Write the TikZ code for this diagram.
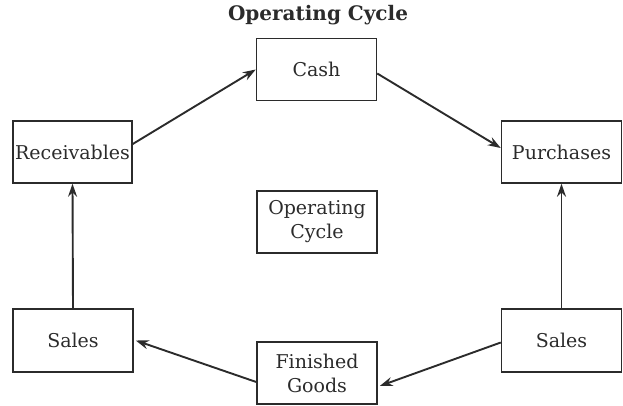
\documentclass[tikz,border=0pt]{standalone}
\usepackage{fontspec}
\setmainfont{DejaVu Serif}
\usetikzlibrary{arrows.meta}
\definecolor{ink}{HTML}{2B2B2B}
\begin{document}
\begin{tikzpicture}[x=1pt,y=-1pt,
  every node/.style={font=\fontsize{19}{24}\selectfont, text=ink},
  box/.style={draw=ink, line width=1.5pt, inner sep=1pt, align=center,
    minimum width=120pt, minimum height=62pt},
  flow/.style={draw=ink, line width=1.9pt, -{Stealth[length=13pt,width=9pt]}}]
\useasboundingbox (0,0) rectangle (623,406);
\node[font=\fontsize{20}{24}\selectfont\bfseries] (title) at (318,15) {Operating Cycle};
\node[box] (cash) at (316.5,69.5) {Cash};
\node[box, minimum width=119pt] (rec) at (72.5,152) {Receivables};
\node[box] (pur) at (561.5,152) {Purchases};
\node[box] (op) at (317,222) {Operating\\Cycle};
\node[box, minimum height=63pt] (salesl) at (73,340.5) {Sales};
\node[box] (fg) at (317,373) {Finished\\Goods};
\node[box, minimum height=63pt] (salesr) at (561.5,340.5) {Sales};
\draw[flow] ([yshift=8pt]rec.east) -- (cash.west);
\draw[flow] ([yshift=-4pt]cash.east) -- ([yshift=4pt]pur.west);
\draw[flow] (salesl.north) -- (rec.south);
\draw[flow] (salesr.north) -- (pur.south);
\draw[flow] ([yshift=-9pt]fg.west) -- ([xshift=2pt]salesl.east);
\draw[flow] ([yshift=-2pt]salesr.west) -- ([xshift=2pt,yshift=-13pt]fg.east);
\end{tikzpicture}
\end{document}
